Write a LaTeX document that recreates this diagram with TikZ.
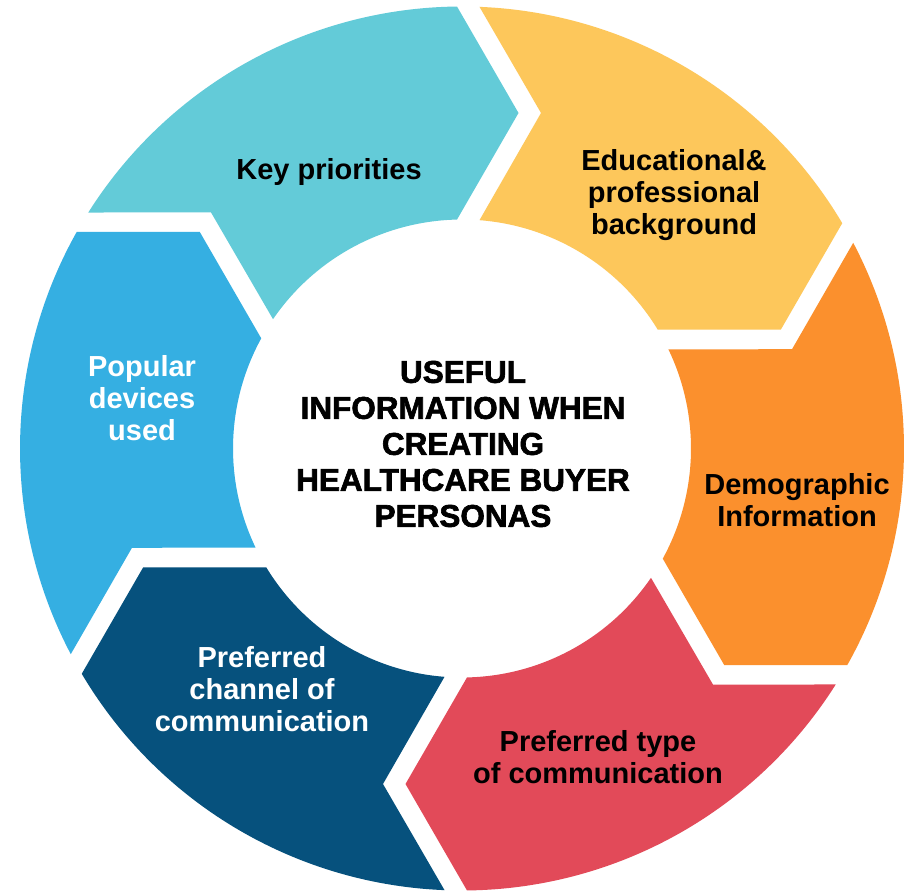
\documentclass[tikz,border=0pt]{standalone}
\usepackage{fontspec}
\setmainfont{Liberation Sans}
\newfontfamily\heavyfont[BoldFeatures={FakeBold=2}]{Liberation Sans}
\definecolor{cteal}{HTML}{63CBD8}
\definecolor{cyellow}{HTML}{FDC75B}
\definecolor{corange}{HTML}{FB902D}
\definecolor{cred}{HTML}{E24A59}
\definecolor{cdblue}{HTML}{06517D}
\definecolor{cblue}{HTML}{35AFE2}
\tikzset{
  lbl/.style={align=center, inner sep=0pt, font=\fontsize{29}{32}\selectfont\bfseries},
  darklbl/.style={lbl, text=black},
  lightlbl/.style={lbl, text=white},
  titlelbl/.style={align=center, inner sep=0pt, text=black, font=\heavyfont\fontsize{31.5}{36}\selectfont\bfseries},
}
\begin{document}
\begin{tikzpicture}[x=1pt,y=1pt]
\fill[white] (0,0) rectangle (909,891);
\useasboundingbox (0,0) rectangle (909,891);
\coordinate (C) at (462,442.5);
\def\Ro{442}\def\Ri{229}\def\Rm{335.5}\def\hh{61.5}
\def\dS{17.5}\def\dE{5}
\begin{scope}[shift={(C)}]
\foreach \ts/\col in {150/cteal, 90/cyellow, 30/corange, -30/cred, -90/cdblue, -150/cblue}{
  \pgfmathsetmacro\te{\ts-60}
  \pgfmathsetmacro\aos{\ts-asin(\dS/\Ro)}
  \pgfmathsetmacro\ais{\ts-asin(\dS/\Ri)}
  \pgfmathsetmacro\aoe{\te+asin(\dE/\Ro)}
  \pgfmathsetmacro\aie{\te+asin(\dE/\Ri)}
  \pgfmathsetmacro\ty{\dE-\hh}
  \pgfmathsetmacro\ny{-\dS-\hh}
  \fill[\col] (\aos:\Ro) arc[start angle=\aos, end angle=\aoe, radius=\Ro pt]
     -- ([rotate=\te]\Rm,\ty) -- (\aie:\Ri)
     arc[start angle=\aie, end angle=\ais, radius=\Ri pt]
     -- ([rotate=\ts]\Rm,\ny) -- cycle;
}
\end{scope}
\node[darklbl] (kp) at (329,718.5) {Key priorities};
\node[darklbl] (edu) at (674,695.5) {Educational\&\\professional\\background};
\node[darklbl] (demo) at (797,391) {Demographic\\Information};
\node[darklbl] (ptype) at (598,133.5) {Preferred type\\of communication};
\node[lightlbl] (pchan) at (262,201.5) {Preferred\\channel of\\communication};
\node[lightlbl] (pop) at (142,492.5) {Popular\\devices\\used};
\node[titlelbl] (ttl) at (463,447) {USEFUL\\INFORMATION WHEN\\CREATING\\HEALTHCARE BUYER\\PERSONAS};
\end{tikzpicture}
\end{document}
